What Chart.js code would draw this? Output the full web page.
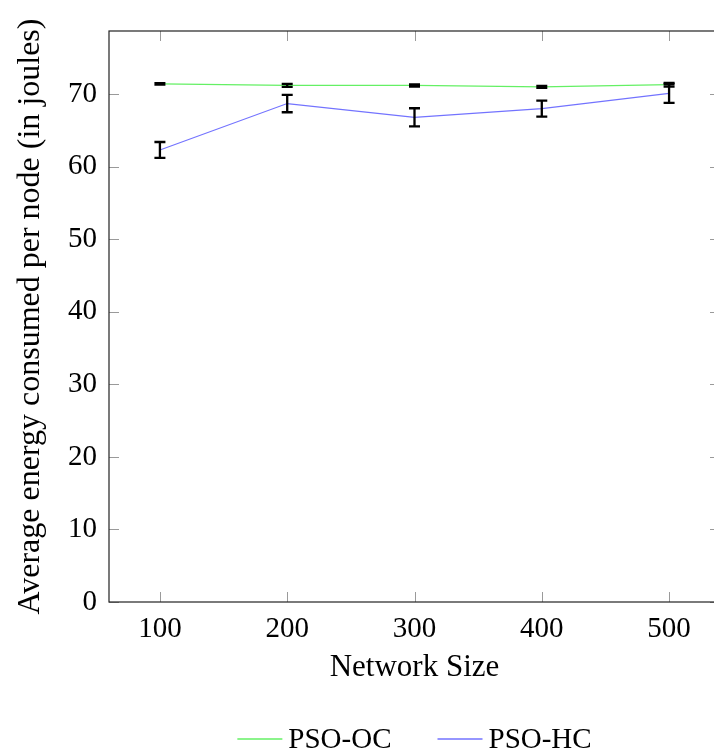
<!DOCTYPE html>
<html>
<head>
<meta charset="utf-8">
<script src="https://cdn.jsdelivr.net/npm/chart.js@4.4.0/dist/chart.umd.min.js"></script>
<style>
html, body { margin: 0; padding: 0; background: #fff; overflow: hidden; }
canvas { display: block; }
</style>
</head>
<body>
<canvas id="energyChart" width="730" height="753"></canvas>
<script>
// values
var networkSizes = [100, 200, 300, 400, 500];
var ocEnergy = [71.4, 71.2, 71.2, 71.0, 71.3];
var ocError  = [0.1, 0.2, 0.15, 0.15, 0.25];
var hcEnergy = [62.3, 68.7, 66.8, 68.0, 70.1];
var hcError  = [1.1, 1.2, 1.25, 1.1, 1.3];
var xTicks = [100, 200, 300, 400, 500];
var yTicks = [0, 10, 20, 30, 40, 50, 60, 70];

var serif = "'Liberation Serif', 'Times New Roman', serif";

function toPoints(values) {
  return networkSizes.map(function (x, i) { return { x: x, y: values[i] }; });
}

// box, inner ticks and error bars
var frameAndBars = {
  id: 'frameAndBars',
  afterDatasetsDraw: function (chart) {
    var ctx = chart.ctx;
    var xs = chart.scales.x, ys = chart.scales.y;
    var a = chart.chartArea;
    ctx.save();

    // inner tick marks on all four sides
    ctx.strokeStyle = '#9a9a9a';
    ctx.lineWidth = 1;
    ctx.beginPath();
    yTicks.forEach(function (v) {
      var py = Math.round(ys.getPixelForValue(v)) + 0.5;
      ctx.moveTo(a.left, py); ctx.lineTo(a.left + 10, py);
      ctx.moveTo(a.right, py); ctx.lineTo(a.right - 10, py);
    });
    xTicks.forEach(function (v) {
      var px = Math.round(xs.getPixelForValue(v)) + 0.5;
      ctx.moveTo(px, a.bottom); ctx.lineTo(px, a.bottom - 10);
      ctx.moveTo(px, a.top); ctx.lineTo(px, a.top + 10);
    });
    ctx.stroke();

    // frame
    ctx.strokeStyle = '#222';
    ctx.lineWidth = 1.2;
    ctx.strokeRect(a.left, a.top, a.right - a.left, a.bottom - a.top);

    // error bars
    ctx.strokeStyle = '#000';
    ctx.lineWidth = 2.3;
    [[ocEnergy, ocError], [hcEnergy, hcError]].forEach(function (s) {
      networkSizes.forEach(function (x, i) {
        var px = xs.getPixelForValue(x);
        var top = ys.getPixelForValue(s[0][i] + s[1][i]);
        var bot = ys.getPixelForValue(s[0][i] - s[1][i]);
        ctx.beginPath();
        ctx.moveTo(px, top); ctx.lineTo(px, bot);
        ctx.moveTo(px - 5.5, top); ctx.lineTo(px + 5.5, top);
        ctx.moveTo(px - 5.5, bot); ctx.lineTo(px + 5.5, bot);
        ctx.stroke();
      });
    });
    ctx.restore();
  }
};

// legend centred under the plot area
var bottomLegend = {
  id: 'bottomLegend',
  afterDraw: function (chart) {
    var ctx = chart.ctx;
    var a = chart.chartArea;
    var sets = chart.data.datasets;
    var lineLen = 45, textGap = 6, itemGap = 46, y = 739;
    ctx.save();
    ctx.font = '29px ' + serif;
    ctx.textBaseline = 'middle';
    var widths = sets.map(function (d) { return ctx.measureText(d.label).width; });
    var total = 0;
    widths.forEach(function (w) { total += lineLen + textGap + w; });
    total += itemGap * (sets.length - 1);
    var x = (a.left + a.right) / 2 - total / 2;
    sets.forEach(function (d, i) {
      ctx.strokeStyle = d.borderColor;
      ctx.lineWidth = 1.5;
      ctx.beginPath();
      ctx.moveTo(x, y); ctx.lineTo(x + lineLen, y);
      ctx.stroke();
      ctx.fillStyle = '#000';
      ctx.fillText(d.label, x + lineLen + textGap, y + 1);
      x += lineLen + textGap + widths[i] + itemGap;
    });
    ctx.restore();
  }
};

var ctx = document.getElementById('energyChart').getContext('2d');
var chart = new Chart(ctx, {
  type: 'line',
  data: {
    datasets: [{
      label: 'PSO-OC',
      data: toPoints(ocEnergy),
      borderColor: 'rgb(100, 240, 100)',
      borderWidth: 1.2,
      pointRadius: 0,
      tension: 0
    }, {
      label: 'PSO-HC',
      data: toPoints(hcEnergy),
      borderColor: 'rgb(115, 115, 255)',
      borderWidth: 1.2,
      pointRadius: 0,
      tension: 0
    }]
  },
  options: {
    responsive: false,
    animation: false,
    layout: { padding: { top: 31, right: 10, bottom: 51, left: 0 } },
    plugins: {
      legend: { display: false },
      tooltip: { enabled: false }
    },
    scales: {
      x: {
        type: 'linear',
        min: 60,
        max: 540,
        grid: { display: false, drawTicks: false },
        border: { display: false },
        afterBuildTicks: function (scale) {
          scale.ticks = xTicks.map(function (v) { return { value: v }; });
        },
        afterFit: function (scale) { scale.height = 100; },
        ticks: { padding: 10, color: '#000', font: { family: serif, size: 29 } },
        title: {
          display: true,
          text: 'Network Size',
          color: '#000',
          font: { family: serif, size: 31 },
          padding: { top: 0, bottom: 16 }
        }
      },
      y: {
        min: 0,
        max: 78.7,
        grid: { display: false, drawTicks: false },
        border: { display: false },
        afterBuildTicks: function (scale) {
          scale.ticks = yTicks.map(function (v) { return { value: v }; });
        },
        afterFit: function (scale) { scale.width = 109; },
        ticks: { padding: 12, color: '#000', font: { family: serif, size: 29 } },
        title: {
          display: true,
          text: 'Average energy consumed per node (in joules)',
          color: '#000',
          font: { family: serif, size: 32 },
          padding: { top: 11, bottom: 0 }
        }
      }
    }
  },
  plugins: [frameAndBars, bottomLegend]
});
</script>
</body>
</html>
